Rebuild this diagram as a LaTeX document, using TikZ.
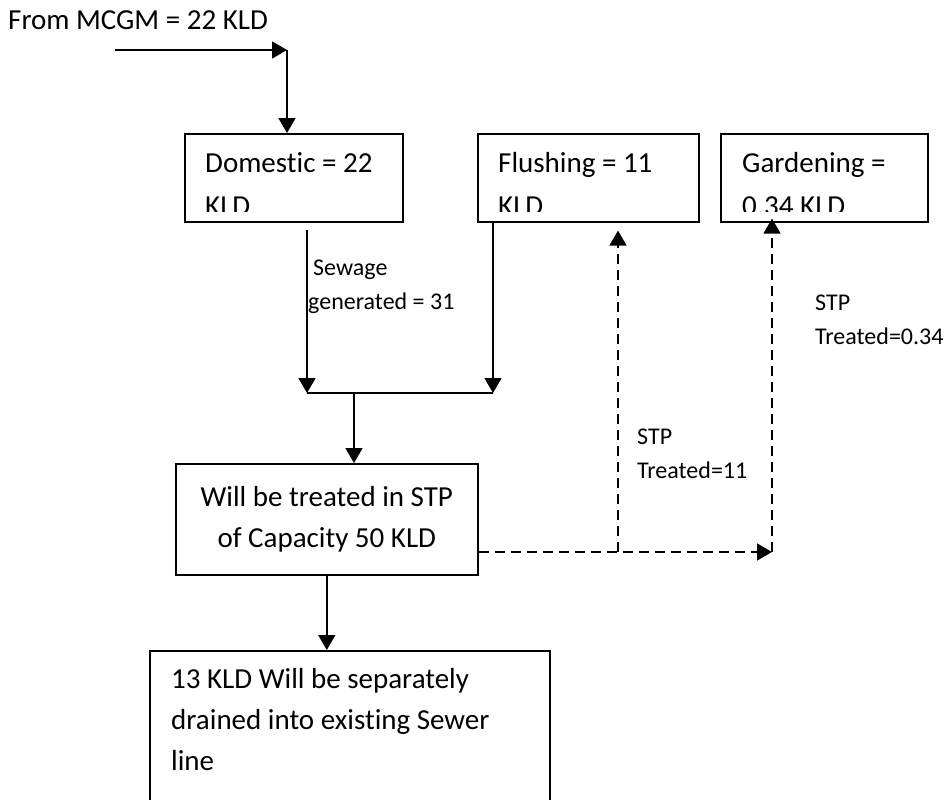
\documentclass[tikz,border=0pt]{standalone}
\usepackage{fontspec}
\setmainfont{Carlito}[Ligatures=NoCommon]
\usetikzlibrary{arrows.meta, calc}
\tikzset{
  box/.style={draw, line width=1.6pt, inner sep=0pt, anchor=north west},
  bigtext/.style={font=\fontsize{29}{43}\selectfont, align=left, inner sep=0pt, anchor=base west},
  smalltext/.style={font=\fontsize{24}{34}\selectfont, align=left, inner sep=0pt, anchor=base west},
  flow/.style={line width=1.6pt, -{Triangle[width=17pt,length=15pt]}},
  recycle/.style={flow, dash pattern=on 10pt off 6pt},
}

\begin{document}
\begin{tikzpicture}[x=1pt, y=-1pt]
    \useasboundingbox (0,0) rectangle (948,800);

    % Supply from MCGM
    \node[bigtext] (supply) at (8,30) {From MCGM = 22 KLD};
    \coordinate (inlet) at (115,50);
    \coordinate (elbow) at (287,50);

    % Demand boxes, their second lines cut off at the bottom
    \node[box, minimum width=218pt, minimum height=88pt] (dom) at (184,133) {};
    \node[box, minimum width=221pt, minimum height=88pt] (flush) at (477,133) {};
    \node[box, minimum width=207pt, minimum height=88pt] (garden) at (720,133) {};
    \begin{scope}
        \clip (dom.north west) rectangle ([yshift=11pt]garden.south east);
        % anchored at the baseline of the last line
        \node[bigtext] (domtxt) at (205,215) {Domestic = 22\\KLD};
        \node[bigtext] (flushtxt) at (498,215) {Flushing = 11\\KLD};
        \node[bigtext] (gardentxt) at (742,215) {Gardening =\\0.34 KLD};
    \end{scope}

    % Treatment and disposal
    \node[box, minimum width=302pt, minimum height=111pt,
          font=\fontsize{29}{41}\selectfont, align=center] (stp) at (175,463)
        {Will be treated in STP\\of Capacity 50 KLD};
    \node[box, minimum width=400pt, minimum height=180pt] (drain) at (149,650) {};
    \node[bigtext, font=\fontsize{29}{41}\selectfont] (draintxt) at (171,770)
        {13 KLD Will be separately\\drained into existing Sewer\\line};

    % Solid flows
    \coordinate (sewL) at (307,393);
    \coordinate (sewR) at (493,393);
    \coordinate (sewM) at (354,393);
    \draw[flow] (inlet) -- (elbow);
    \draw[flow] (elbow) -- (elbow |- dom.north);
    \draw[flow] ([yshift=-7pt]dom.south -| sewL) -- (sewL);
    \draw[flow] (flush.south -| sewR) -- (sewR);
    \draw[line width=1.6pt] (sewL) -- (sewR);
    \draw[flow] (sewM) -- (sewM |- stp.north);
    \draw[flow] (stp.south) -- (stp.south |- drain.north);

    % Treated water back to reuse
    \coordinate (tap) at (618,552);
    \coordinate (gardin) at (772,552);
    \draw[recycle] (stp.east |- tap) -- (gardin);
    \draw[recycle] (tap) -- ([yshift=-8pt]flush.south -| tap);
    \draw[recycle] (gardin) -- ([yshift=4pt]garden.south -| gardin);

    % Flow labels
    \node[smalltext] (sewage) at (308,309) {\hspace*{5pt}Sewage\\generated = 31};
    \node[smalltext] (treat1) at (637,478) {STP\\Treated=11};
    \node[smalltext] (treat2) at (815,344) {STP\\Treated=0.34};
\end{tikzpicture}
\end{document}
